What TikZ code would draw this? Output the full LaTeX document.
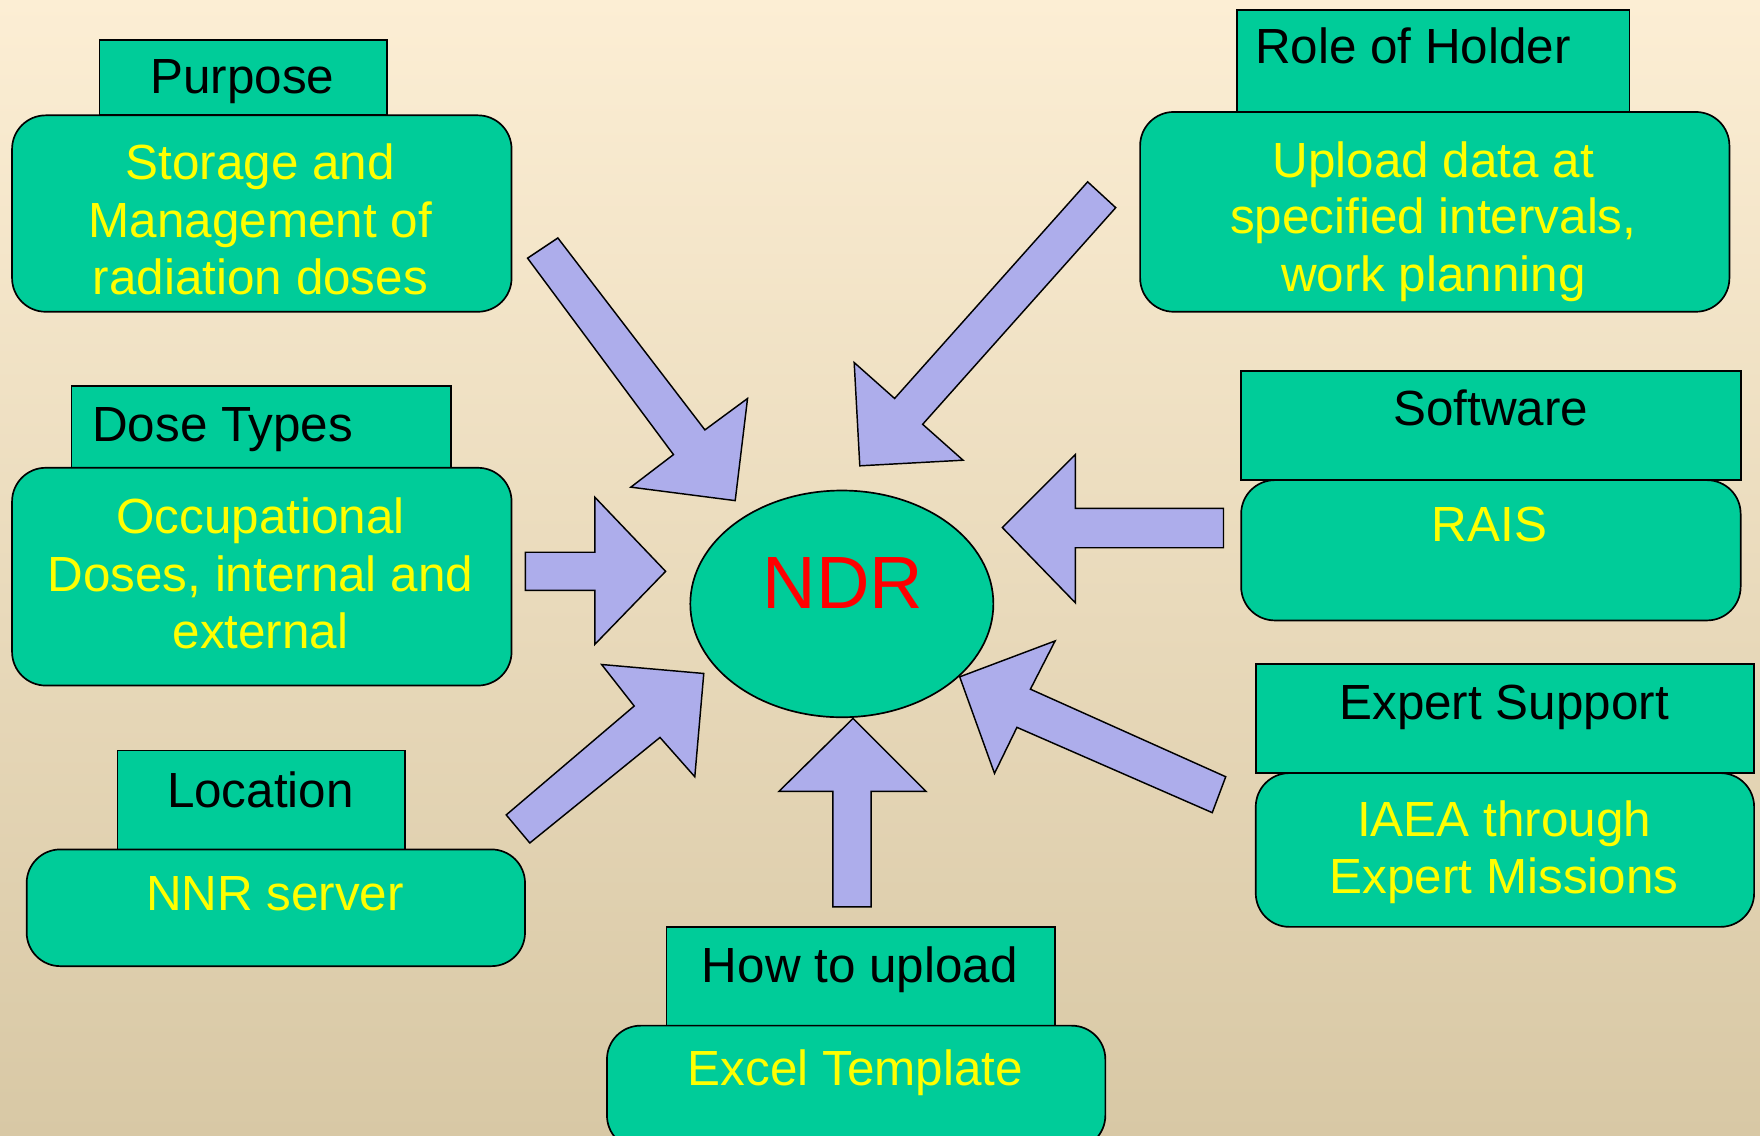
\documentclass[tikz,border=0pt]{standalone}
\usepackage{fontspec}
\setmainfont{Liberation Sans}
\usetikzlibrary{shapes.geometric}
\definecolor{boxgreen}{RGB}{0,204,153}
\definecolor{arrowblue}{RGB}{173,173,235}
\definecolor{bgtop}{RGB}{252,238,212}
\definecolor{bgmid}{RGB}{243,235,213}
\definecolor{bgbot}{RGB}{216,200,165}
\definecolor{txtyellow}{RGB}{255,255,0}
\begin{document}
\begin{tikzpicture}[x=1pt,y=-1pt,
  titlebox/.style={draw=black, line width=1.5pt, fill=boxgreen, anchor=north west, inner sep=0pt},
  mainbox/.style={draw=black, line width=1.5pt, fill=boxgreen, rounded corners=30pt, anchor=north west, inner sep=0pt},
  blockarrow/.style={draw=black, line width=1.3pt, fill=arrowblue, line join=miter},
  ttl/.style={font=\fontsize{44}{51}\selectfont, text=black, inner sep=0pt, anchor=base},
  body/.style={font=\fontsize{44}{51}\selectfont, text=txtyellow, inner sep=0pt, anchor=base},
]
\useasboundingbox (0,0) rectangle (1568,1012);
\clip (0,0) rectangle (1568,1012);
\shade[top color=bgtop, middle color=bgmid, bottom color=bgbot] (0,0) rectangle (1568,1012);

% arrows
\draw[blockarrow] (470,230) -- (600,405) -- (562,434) -- (655,446) -- (666,355) -- (628,383) -- (497,212) -- cycle;
\draw[blockarrow] (969,162) -- (797,355) -- (761,323) -- (766,415) -- (858,410) -- (822,378) -- (994,185) -- cycle;
\draw[blockarrow] (468,492) -- (530,492) -- (530,443) -- (593,509) -- (530,574) -- (530,526) -- (468,526) -- cycle;
\draw[blockarrow] (1090,453) -- (958,453) -- (958,405) -- (893,470) -- (958,537) -- (958,488) -- (1090,488) -- cycle;
\draw[blockarrow] (451,726) -- (565,629) -- (536,592) -- (627,600) -- (619,692) -- (588,657) -- (472,751) -- cycle;
\draw[blockarrow] (742,808) -- (742,705) -- (694,705) -- (760,640) -- (825,705) -- (776,705) -- (776,808) -- cycle;
\draw[blockarrow] (1092,692) -- (918,614) -- (940,571) -- (855,603) -- (886,689) -- (906,648) -- (1080,724) -- cycle;

% central ellipse
\node[draw=black, line width=1.5pt, fill=boxgreen, ellipse, minimum width=270pt, minimum height=202pt, inner sep=0pt] (ndr) at (750,538) {};
\node[font=\fontsize{66}{70}\selectfont, text=red, inner sep=0pt, anchor=base] (ndrtext) at (751,542) {NDR};

% Purpose
\node[titlebox, minimum width=256pt, minimum height=67pt] (purposeT) at (88,35) {};
\node[mainbox, minimum width=445pt, minimum height=175pt] (purposeB) at (10,102) {};
\node[ttl] (purposeL) at (216,83) {Purpose};
\node[body] (purpose1) at (232,160) {Storage and};
\node[body] (purpose2) at (232,212) {Management of};
\node[body] (purpose3) at (232,262) {radiation doses};

% Role of Holder
\node[titlebox, minimum width=350pt, minimum height=91pt] (roleT) at (1101,8) {};
\node[mainbox, minimum width=525pt, minimum height=178pt] (roleB) at (1015,99) {};
\node[ttl, anchor=base west] (roleL) at (1118,57) {Role of Holder};
\node[body] (role1) at (1277,158) {Upload data at};
\node[body] (role2) at (1277,208) {specified intervals,};
\node[body] (role3) at (1277,260) {work planning};

% Dose Types
\node[titlebox, minimum width=338pt, minimum height=73pt] (doseT) at (63,343) {};
\node[mainbox, minimum width=445pt, minimum height=194pt] (doseB) at (10,416) {};
\node[ttl, anchor=base west] (doseL) at (82,393) {Dose Types};
\node[body] (dose1) at (232,475) {Occupational};
\node[body] (dose2) at (232,527) {Doses, internal and};
\node[body] (dose3) at (232,578) {external};

% Software
\node[titlebox, minimum width=445pt, minimum height=97pt] (softT) at (1105,330) {};
\node[mainbox, minimum width=445pt, minimum height=125pt] (softB) at (1105,427) {};
\node[ttl] (softL) at (1328,379) {Software};
\node[body] (soft1) at (1327,482) {RAIS};

% Location
\node[titlebox, minimum width=256pt, minimum height=88pt] (locT) at (104,668) {};
\node[mainbox, minimum width=444pt, minimum height=104pt] (locB) at (23,756) {};
\node[ttl] (locL) at (232,719) {Location};
\node[body] (loc1) at (245,811) {NNR server};

% Expert Support
\node[titlebox, minimum width=444pt, minimum height=97pt] (expT) at (1118,591) {};
\node[mainbox, minimum width=444pt, minimum height=137pt] (expB) at (1118,688) {};
\node[ttl] (expL) at (1340,641) {Expert Support};
\node[body] (exp1) at (1340,745) {IAEA through};
\node[body] (exp2) at (1340,796) {Expert Missions};

% How to upload
\node[titlebox, minimum width=346pt, minimum height=88pt] (howT) at (593,825) {};
\node[mainbox, minimum width=444pt, minimum height=110pt] (howB) at (540,913) {};
\node[ttl] (howL) at (766,875) {How to upload};
\node[body] (how1) at (762,967) {Excel Template};
\end{tikzpicture}
\end{document}
